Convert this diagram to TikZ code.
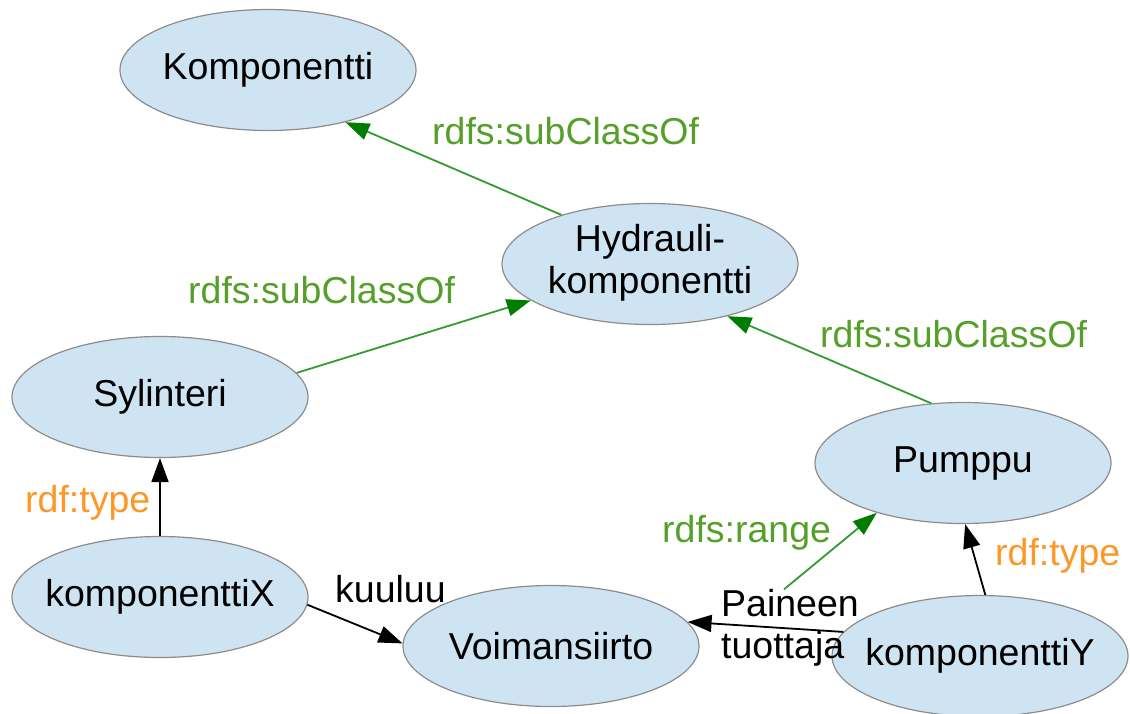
\documentclass[tikz,border=0pt]{standalone}
\usepackage{fontspec}
\setmainfont{Liberation Sans}
\usetikzlibrary{shapes.geometric,arrows.meta}
\definecolor{ellfill}{RGB}{207,228,243}
\definecolor{ellline}{RGB}{140,140,140}
\definecolor{edgegreen}{RGB}{50,155,50}
\definecolor{tipgreen}{RGB}{0,125,0}
\definecolor{lblgreen}{RGB}{85,160,40}
\definecolor{lblorange}{RGB}{255,150,40}
\newcommand{\zw}[1]{\makebox[0pt]{#1}}
\begin{document}
\begin{tikzpicture}[x=1pt,y=-1pt,
  cls/.style={ellipse, draw=ellline, line width=1.2pt, fill=ellfill,
    minimum width=296pt, minimum height=121pt, inner sep=0pt,
    font=\fontsize{37.5}{42}\selectfont},
  greenedge/.style={draw=edgegreen, line width=1.8pt,
    -{Triangle[length=24pt,width=17pt,color=tipgreen]}},
  blackedge/.style={draw=black, line width=1.8pt,
    -{Triangle[length=24pt,width=17pt,color=black]}},
  lbl/.style={inner sep=0pt, anchor=base west, font=\fontsize{37.5}{42}\selectfont},
  lblg/.style={lbl, text=lblgreen},
  lblo/.style={lbl, text=lblorange}]
\useasboundingbox (0,0) rectangle (1130,713);
\node[cls] (komp) at (268,70) {\zw{Komponentti}};
\node[cls] (hyd) at (650,264) {\zw{\begin{tabular}{@{}c@{}}Hydrauli-\\komponentti\end{tabular}}};
\node[cls] (syl) at (160,397) {\zw{Sylinteri}};
\node[cls] (pum) at (963,463) {\zw{Pumppu}};
\node[cls] (kx) at (160,597) {\zw{komponenttiX}};
\node[cls] (voi) at (551,646) {\zw{Voimansiirto}};
\node[cls] (ky) at (980,656) {\zw{komponenttiY}};

\node[inner sep=0pt, align=left, font=\fontsize{37.5}{42}\selectfont] (pt) at (790,628) {Paineen\\tuottaja};

\draw[greenedge] (hyd.151) -- (komp.-34);
\draw[greenedge] (syl.10) -- (hyd.197);
\draw[greenedge] (pum.118) -- (hyd.-34);
\draw[blackedge] (kx.north) -- (syl.south);
\draw[blackedge] (kx.-3) -- (voi.179);
\draw[blackedge] (ky.170) -- (voi.10);
\draw[blackedge] (ky.85) -- (pum.-88);
\draw[greenedge] ([xshift=-6pt]pt.north) -- (pum.210);

\node[lblg] (l1) at (432,144) {rdfs:subClassOf};
\node[lblg] (l2) at (188,303) {rdfs:subClassOf};
\node[lblg] (l3) at (820,347) {rdfs:subClassOf};
\node[lblo] (l4) at (25,512) {rdf:type};
\node[lbl] (l5) at (335,602) {kuuluu};
\node[lblg] (l6) at (662,542) {rdfs:range};
\node[lblo] (l7) at (995,565) {rdf:type};
\end{tikzpicture}
\end{document}
